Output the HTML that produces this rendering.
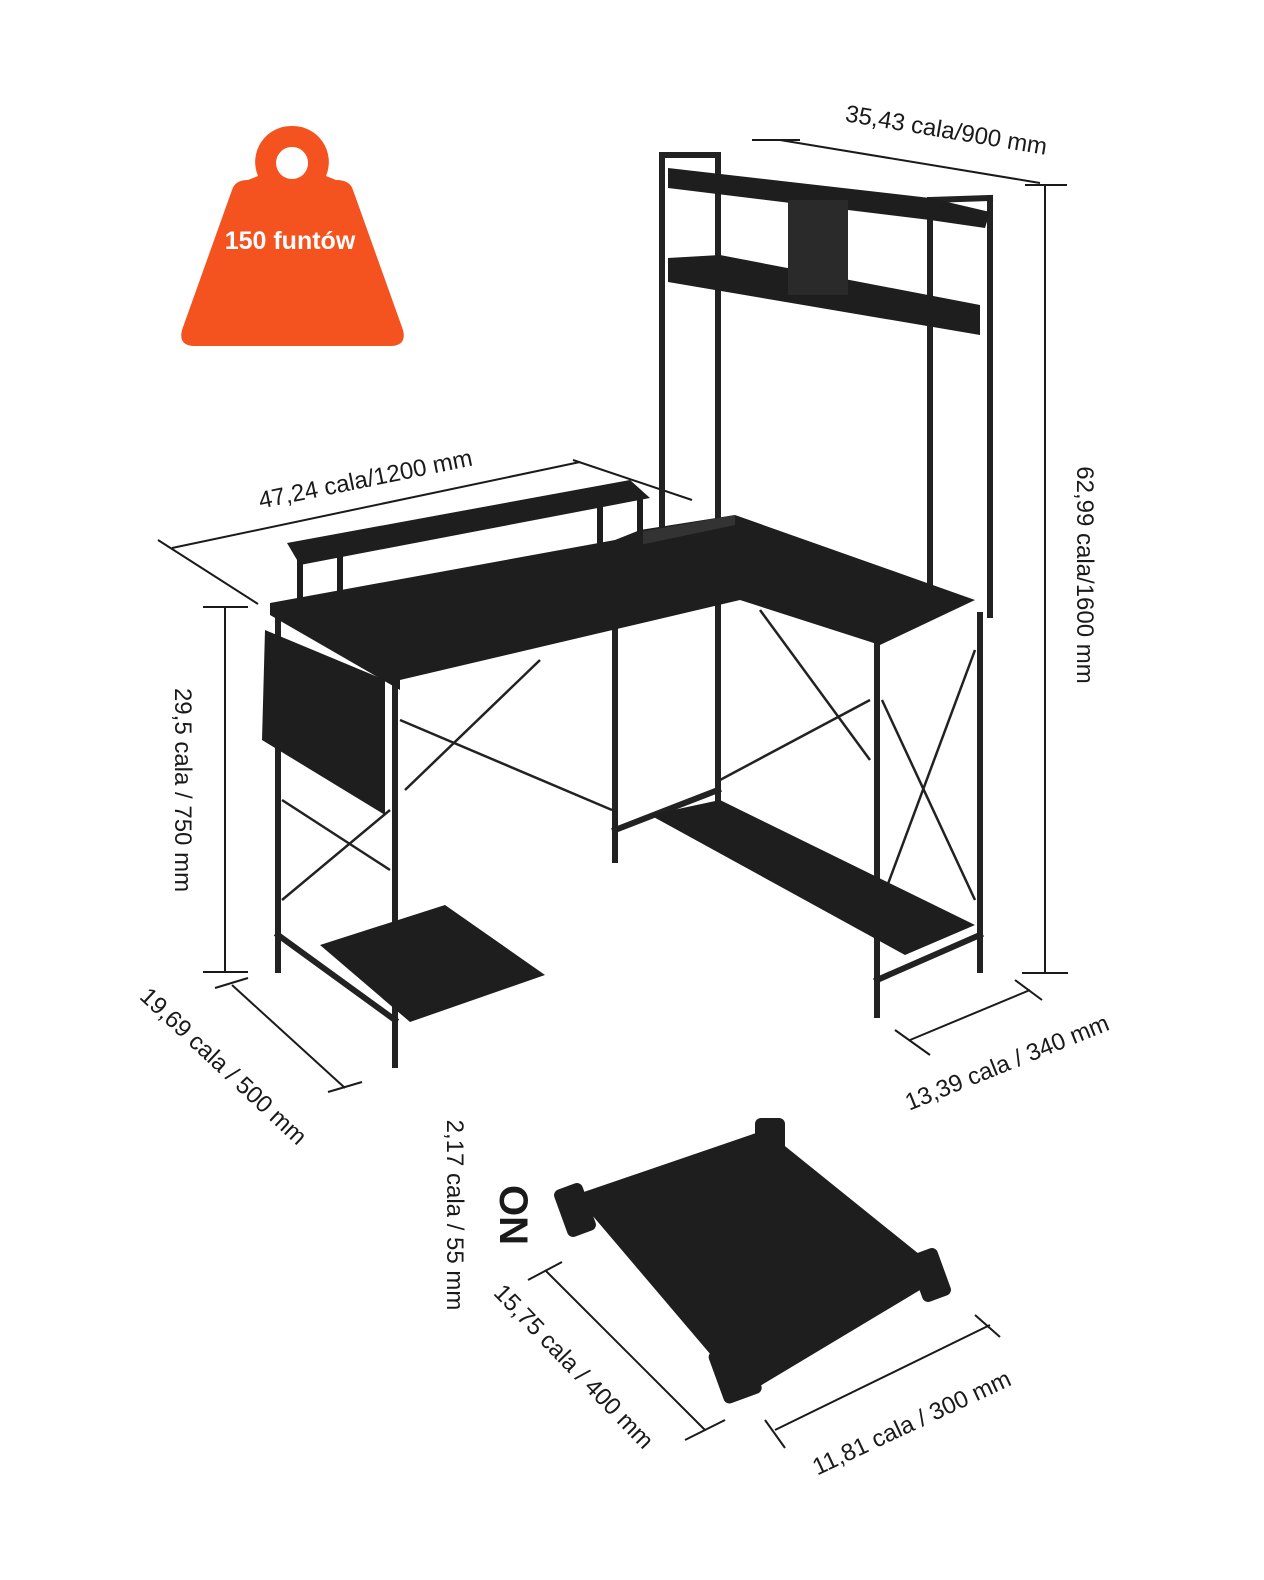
<!DOCTYPE html>
<html><head><meta charset="utf-8"><style>
html,body{margin:0;padding:0;background:#fff;}
svg{display:block}
text{font-family:"Liberation Sans",sans-serif;fill:#1a1a1a;}
</style></head><body>
<svg width="1264" height="1580" viewBox="0 0 1264 1580" xmlns="http://www.w3.org/2000/svg">
<rect width="1264" height="1580" fill="#fff"/>
<!-- weight -->
<path fill-rule="evenodd" fill="#f4521f" d="M292,126 a36,36 0 0 1 34,50 L336,180 Q350,180 353,190 L403,330 Q407,346 390,346 L195,346 Q178,346 182,330 L232,190 Q235,180 248,180 L258,176 A36,36 0 0 1 292,126 Z M292,147 a16,16 0 1 0 0.1,0 Z"/>
<text x="290" y="249" text-anchor="middle" font-size="25" font-weight="bold" style="fill:#fff">150 funtów</text>

<g stroke="#1a1a1a" stroke-width="2" fill="none">
<line x1="780" y1="140" x2="1040" y2="183"/>
<line x1="752" y1="140" x2="800" y2="140"/>
<line x1="1045" y1="185" x2="1045" y2="973"/>
<line x1="1025" y1="185" x2="1067" y2="185"/>
<line x1="1022" y1="973" x2="1068" y2="973"/>
<line x1="172" y1="548" x2="580" y2="462"/>
<line x1="158" y1="540" x2="258" y2="604"/>
<line x1="573" y1="460" x2="692" y2="500"/>
<line x1="225" y1="607" x2="225" y2="972"/>
<line x1="203" y1="607" x2="248" y2="607"/>
<line x1="203" y1="972" x2="248" y2="972"/>
<line x1="232" y1="985" x2="345" y2="1088"/>
<line x1="215" y1="988" x2="248" y2="978"/>
<line x1="328" y1="1092" x2="362" y2="1082"/>
<line x1="910" y1="1040" x2="1030" y2="990"/>
<line x1="895" y1="1030" x2="930" y2="1055"/>
<line x1="1015" y1="980" x2="1042" y2="1000"/>
<line x1="545" y1="1270" x2="705" y2="1430"/>
<line x1="528" y1="1280" x2="562" y2="1262"/>
<line x1="685" y1="1440" x2="725" y2="1420"/>
<line x1="775" y1="1430" x2="990" y2="1325"/>
<line x1="765" y1="1420" x2="785" y2="1448"/>
<line x1="975" y1="1315" x2="1000" y2="1337"/>
</g>

<text transform="translate(945,138) rotate(9.5)" text-anchor="middle" font-size="24">35,43 cala/900 mm</text>
<text transform="translate(1077,575) rotate(90)" text-anchor="middle" font-size="24">62,99 cala/1600 mm</text>
<text transform="translate(367,487) rotate(-11.5)" text-anchor="middle" font-size="24">47,24 cala/1200 mm</text>
<text transform="translate(175,790) rotate(90)" text-anchor="middle" font-size="24">29,5 cala / 750 mm</text>
<text transform="translate(218,1072) rotate(43)" text-anchor="middle" font-size="24">19,69 cala / 500 mm</text>
<text transform="translate(1010,1070) rotate(-22)" text-anchor="middle" font-size="24">13,39 cala / 340 mm</text>
<text transform="translate(447,1215) rotate(90)" text-anchor="middle" font-size="24">2,17 cala / 55 mm</text>
<text transform="translate(500,1215) rotate(90)" text-anchor="middle" font-size="40" font-weight="bold">ON</text>
<text transform="translate(568,1372) rotate(46)" text-anchor="middle" font-size="24">15,75 cala / 400 mm</text>
<text transform="translate(915,1430) rotate(-25)" text-anchor="middle" font-size="24">11,81 cala / 300 mm</text>

<g stroke="#222" stroke-width="6" fill="none" stroke-linecap="square">
<line x1="662" y1="155" x2="662" y2="525"/>
<line x1="718" y1="160" x2="718" y2="800"/>
<line x1="930" y1="200" x2="930" y2="615"/>
<line x1="990" y1="198" x2="990" y2="615"/>
<line x1="662" y1="155" x2="718" y2="155"/>
<line x1="930" y1="200" x2="990" y2="198"/>
<line x1="395" y1="680" x2="395" y2="1065"/>
<line x1="278" y1="620" x2="278" y2="970"/>
<line x1="615" y1="630" x2="615" y2="860"/>
<line x1="877" y1="645" x2="877" y2="1015"/>
<line x1="980" y1="615" x2="980" y2="970"/>
<line x1="278" y1="935" x2="395" y2="1020"/>
<line x1="615" y1="830" x2="718" y2="790"/>
<line x1="877" y1="980" x2="980" y2="935"/>
</g>
<g stroke="#222" stroke-width="2.5">
<line x1="400" y1="720" x2="612" y2="810"/>
<line x1="405" y1="790" x2="540" y2="660"/>
<line x1="282" y1="900" x2="390" y2="810"/>
<line x1="282" y1="800" x2="390" y2="870"/>
<line x1="720" y1="780" x2="870" y2="700"/>
<line x1="760" y1="610" x2="870" y2="760"/>
<line x1="882" y1="700" x2="975" y2="900"/>
<line x1="882" y1="900" x2="975" y2="650"/>
</g>
<g fill="#1e1e1e">
<polygon points="668,168 930,198 990,212 985,228 930,220 668,188"/>
<polygon points="668,258 720,255 980,305 980,335 668,282"/>
<rect x="788" y="200" width="60" height="95" fill="#2a2a2a"/>
<polygon points="270,603 615,540 640,530 735,515 975,600 880,645 740,600 400,680 400,690 270,615"/>
<polygon points="640,532 735,515 735,525 640,545" fill="#333"/>
<polygon points="287,543 630,480 650,498 300,565"/>
<line x1="300" y1="560" x2="300" y2="615" stroke="#1e1e1e" stroke-width="6"/>
<line x1="340" y1="556" x2="340" y2="625" stroke="#1e1e1e" stroke-width="6"/>
<line x1="600" y1="500" x2="600" y2="545" stroke="#1e1e1e" stroke-width="6"/>
<line x1="640" y1="495" x2="640" y2="555" stroke="#1e1e1e" stroke-width="6"/>
<polygon points="265,630 385,680 385,815 262,740"/>
<polygon points="650,815 720,800 975,925 905,955"/>
<polygon points="320,945 445,905 545,975 410,1022"/>
<polygon points="575,1195 765,1130 945,1275 745,1395"/>
<rect x="560" y="1185" width="30" height="50" rx="6" transform="rotate(-20 575 1210)"/>
<rect x="755" y="1118" width="30" height="40" rx="6"/>
<rect x="915" y="1250" width="30" height="50" rx="6" transform="rotate(-20 930 1275)"/>
<rect x="715" y="1345" width="40" height="55" rx="6" transform="rotate(-20 735 1372)"/>
</g>
</svg>
</body></html>
